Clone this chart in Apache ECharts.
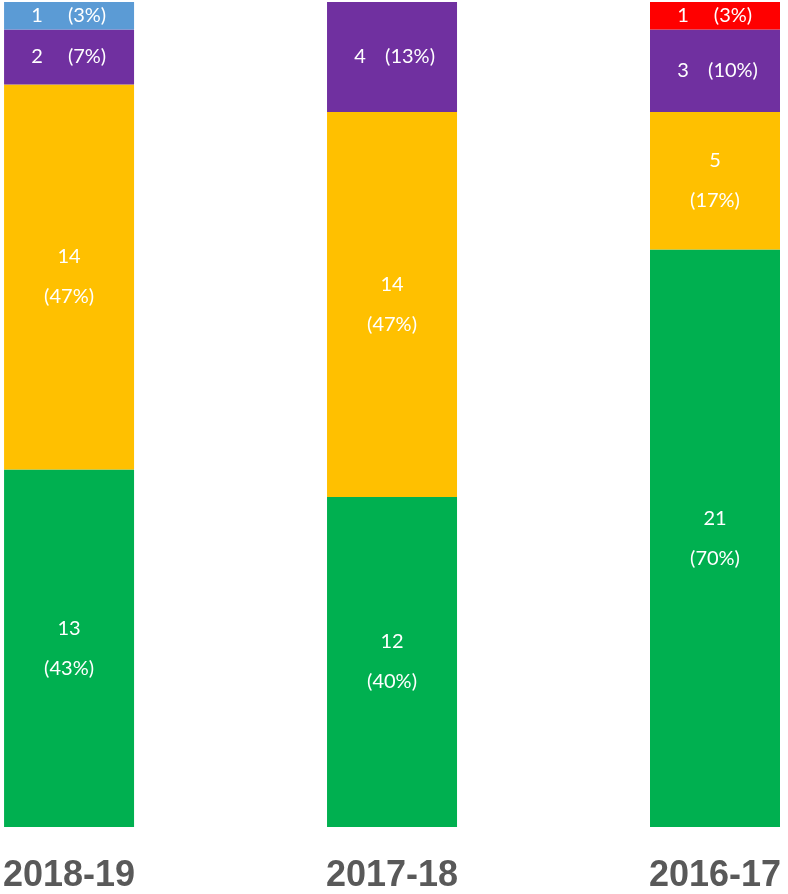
<!DOCTYPE html>
<html>
<head>
<meta charset="utf-8">
<script src="https://cdn.jsdelivr.net/npm/echarts@6/dist/echarts.min.js"></script>
<style>
  html, body { margin: 0; padding: 0; background: #ffffff; }
  #chart { width: 788px; height: 894px; }
</style>
</head>
<body>
<div id="chart"></div>
<script>
const categories = ['2018-19', '2017-18', '2016-17'];
const greenValues = [13, 12, 21];
const yellowValues = [14, 14, 5];
const purpleValues = [2, 4, 3];
const blueValues = [1, null, null];
const redValues = [null, null, 1];
const axisMax = 30;

const totals = categories.map((_, i) =>
  [greenValues, yellowValues, purpleValues, blueValues, redValues]
    .reduce((s, arr) => s + (arr[i] || 0), 0));

function fmt(params) {
  const v = params.value;
  if (v == null) return '';
  const p = Math.round(v / totals[params.dataIndex] * 100);
  if (v >= 5) return v + '\n(' + p + '%)';
  return '{n|' + v + '}{p|(' + p + '%)}';
}

const labelCfg = {
  show: true,
  position: 'inside',
  color: '#ffffff',
  fontFamily: 'Lato',
  fontSize: 20,
  lineHeight: 40,
  align: 'center',
  formatter: fmt,
  rich: {
    n: { color: '#ffffff', fontFamily: 'Lato', fontSize: 20, width: 36, align: 'center', lineHeight: 22 },
    p: { color: '#ffffff', fontFamily: 'Lato', fontSize: 20, width: 64, align: 'center', lineHeight: 22 }
  }
};

function makeSeries(name, data, color) {
  return {
    name: name,
    type: 'bar',
    stack: 'total',
    barWidth: 130,
    clip: false,
    data: data,
    itemStyle: { color: color },
    label: Object.assign({}, labelCfg),
    emphasis: { disabled: true }
  };
}

const chart = echarts.init(document.getElementById('chart'), null, { renderer: 'canvas' });
chart.setOption({
  animation: false,
  backgroundColor: '#ffffff',
  grid: { left: 67, right: 73, top: 2, bottom: 64, containLabel: false },
  xAxis: {
    type: 'category',
    data: categories,
    boundaryGap: false,
    axisLine: { show: false },
    axisTick: { show: false },
    splitLine: { show: false },
    axisLabel: {
      interval: 0,
      margin: 31,
      fontSize: 36,
      fontWeight: 'bold',
      fontFamily: 'Liberation Sans',
      color: '#595959'
    }
  },
  yAxis: {
    type: 'value',
    min: 0,
    max: axisMax,
    show: false
  },
  series: [
    makeSeries('green', greenValues, '#00B050'),
    makeSeries('yellow', yellowValues, '#FFC000'),
    makeSeries('purple', purpleValues, '#7030A0'),
    makeSeries('blue', blueValues, '#5B9BD5'),
    makeSeries('red', redValues, '#FF0000')
  ]
});
</script>
</body>
</html>
